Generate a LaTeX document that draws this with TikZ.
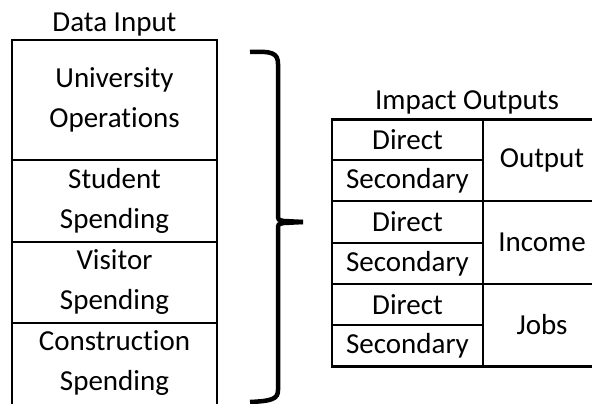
\documentclass[tikz,border=0pt]{standalone}
\usepackage{fontspec}
\setmainfont{Carlito}[Ligatures=NoCommon, Contextuals=NoAlternate]

\begin{document}
\begin{tikzpicture}[x=1pt, y=-1pt, line width=2.5pt,
    lbl/.style={align=center, inner sep=0pt, font=\fontsize{29}{40}\selectfont}]
    \useasboundingbox (0,0) rectangle (592,404);
    % data input column
    \node[lbl] (din) at (114.5, 25) {Data Input};
    \node[lbl] (uni) at (114.5, 100) {University\\Operations};
    \node[lbl] (stu) at (114.5, 201) {Student\\Spending};
    \node[lbl] (vis) at (114.5, 282.5) {Visitor\\Spending};
    \node[lbl] (con) at (114.5, 363.5) {Construction\\Spending};
    \draw (12, 404) -- (12, 40) -- (217, 40) -- (217, 404);
    \draw (12, 160) -- (217, 160);
    \draw (12, 242) -- (217, 242);
    \draw (12, 323) -- (217, 323);
    % brace
    \coordinate (tip) at (303, 222);
    \draw[line width=4.5pt] (250, 52) .. controls (272, 51) and (278, 53) .. (278, 64)
        -- (278, 214) .. controls (278, 220) .. (284, 221) -- (tip);
    \draw[line width=4.5pt] (250, 402) .. controls (272, 401) and (278, 399) .. (278, 390)
        -- (278, 230) .. controls (278, 224) .. (284, 223) -- (tip);
    % impact outputs table
    \node[lbl] (imp) at (467, 102) {Impact Outputs};
    \node[lbl] (d1) at (407.5, 140) {Direct};
    \node[lbl] (s1) at (407.5, 180.5) {Secondary};
    \node[lbl] (d2) at (407.5, 222) {Direct};
    \node[lbl] (s2) at (407.5, 263.5) {Secondary};
    \node[lbl] (d3) at (407.5, 304.5) {Direct};
    \node[lbl] (s3) at (407.5, 346) {Secondary};
    \node[lbl] (out) at (542, 160) {Output};
    \node[lbl] (inc) at (542, 242.5) {Income};
    \node[lbl] (job) at (542, 325) {Jobs};
    \draw (592, 119.5) -- (332, 119.5) -- (332, 366.5) -- (592, 366.5);
    \draw (483, 119.5) -- (483, 366.5);
    \draw (332, 201) -- (592, 201);
    \draw (332, 284) -- (592, 284);
    \draw (332, 160) -- (483, 160);
    \draw (332, 243) -- (483, 243);
    \draw (332, 325) -- (483, 325);
\end{tikzpicture}
\end{document}
